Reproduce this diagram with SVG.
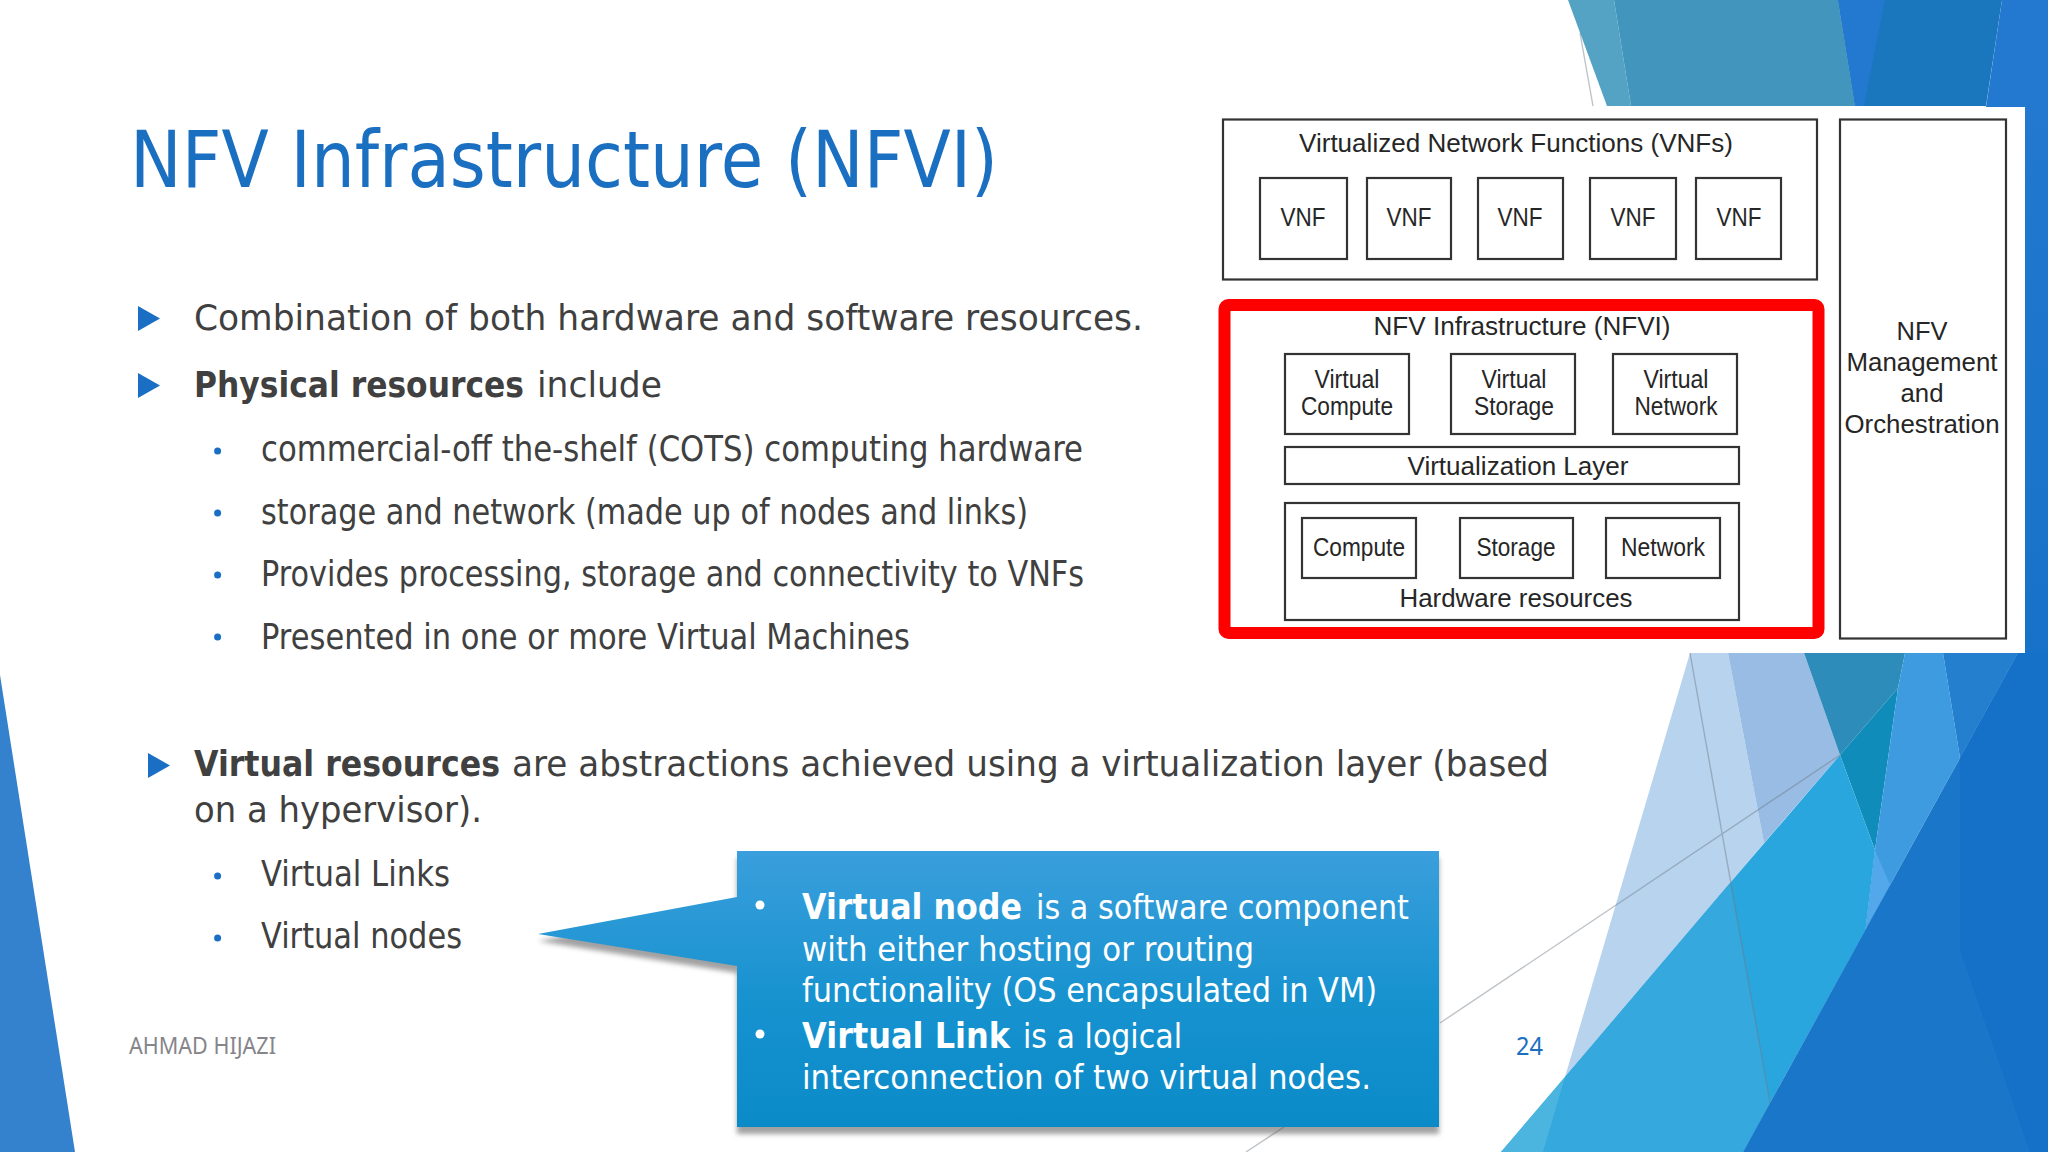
<svg xmlns="http://www.w3.org/2000/svg" width="2048" height="1152" viewBox="0 0 2048 1152">
<defs>
<linearGradient id="callout" x1="0" y1="0" x2="0" y2="1"><stop offset="0" stop-color="#3a9fdc"/><stop offset="0.55" stop-color="#1692cf"/><stop offset="1" stop-color="#0a8bc8"/></linearGradient>
<linearGradient id="strip" x1="0" y1="0" x2="0" y2="1"><stop offset="0" stop-color="#2279cf"/><stop offset="1" stop-color="#1672c8"/></linearGradient>
<filter id="soft" x="-5%" y="-5%" width="110%" height="115%"><feGaussianBlur stdDeviation="2.500"/></filter>
<path id="tri" d="M0 -12.5L22 0L0 12.5Z"/>
</defs>
<style>
.b{font-family:"DejaVu Sans","Noto Sans",sans-serif;font-size:36px;fill:#404040}
.bb{font-weight:700}
.c{font-family:"DejaVu Sans","Noto Sans",sans-serif;font-size:34px;fill:#fff}
.d{font-family:"Liberation Sans",Arial,sans-serif;font-size:26px;fill:#262626;text-anchor:middle}
.box{fill:#fff;stroke:#333;stroke-width:2.2}
.tri{fill:#1a6fc4}
.dot{fill:#1a6fc4}
.ln{fill:none;stroke:#6e7a88;stroke-opacity:.45;stroke-width:1.4}
</style>
<rect width="2048" height="1152" fill="#fff"/>
<g id="background">
<path d="M0 675L75 1152H0Z" fill="#3481cd"/>
<path d="M1568 0H1614L1631 106H1607Z" fill="#55a3c4"/>
<path d="M1614 0H1838L1855 106H1631Z" fill="#4296be"/>
<path d="M1838 0H2002L1986 106H1855Z" fill="#1a76bd"/>
<path d="M1838 0H1885L1864 106H1855Z" fill="#2279cf"/>
<path d="M2002 0H2048V107H1986Z" fill="#2279cf"/>
<rect x="2025" y="100" width="23" height="560" fill="url(#strip)"/>
<path d="M1690 653H1728L1764 843L1730 883L1565 1077Z" fill="#b8d3ee"/>
<path d="M1728 653H1804L1840 755L1764 843Z" fill="#98bce4"/>
<path d="M1804 653H1905L1898 688L1840 755Z" fill="#2e8cba"/>
<path d="M1840 755L1898 688L1875 850Z" fill="#0f8cba"/>
<path d="M1905 653H1943L1960 758L1890 885L1865.500 930L1875 850L1898 688Z" fill="#3f9be0"/>
<path d="M1943 653H2018L1960 758Z" fill="#2480cf"/>
<path d="M1875 850L1890 885L1865.500 930Z" fill="#52a8ea"/>
<path d="M1840 755L1875 850L1865.500 930L1743 1152H1501L1565 1077L1730 883Z" fill="#2aa6de"/>
<path d="M1730 883L1770 1103L1743 1152H1543L1565 1077Z" fill="#35a9dd"/>
<path d="M1501 1152L1565 1077L1543 1152Z" fill="#4bb5e0"/>
<path d="M2018 653H2048V1152H1743L1960 758Z" fill="#1976c9"/>
<path d="M1960 950L2030 1152H2048V653H2018L1960 758Z" fill="#1570c8"/>
<path class="ln" d="M1580 33L1593 106M1690 653L1770 1103M1840 755L1440 1023M1284 1127L1246 1152"/>
</g>
<g id="slide-title"><text x="130" y="187" textLength="868" lengthAdjust="spacingAndGlyphs" style="font-family:'DejaVu Sans','Noto Sans',sans-serif;font-size:78px;fill:#1a6fc0">NFV Infrastructure (NFVI)</text></g>
<g id="bullets">
<use href="#tri" class="tri" x="138" y="318.500"/>
<use href="#tri" class="tri" x="138" y="385.500"/>
<use href="#tri" class="tri" x="148" y="765.500"/>
<circle class="dot" cx="217.600" cy="451" r="3.500"/><circle class="dot" cx="217.600" cy="513" r="3.500"/><circle class="dot" cx="217.600" cy="575" r="3.500"/><circle class="dot" cx="217.600" cy="637" r="3.500"/><circle class="dot" cx="217.600" cy="876" r="3.500"/><circle class="dot" cx="217.600" cy="938" r="3.500"/>
<text class="b" x="194" y="330" textLength="949" lengthAdjust="spacingAndGlyphs">Combination of both hardware and software resources.</text>
<text class="b bb" x="194" y="397" textLength="330" lengthAdjust="spacingAndGlyphs">Physical resources</text>
<text class="b" x="537" y="397" textLength="125" lengthAdjust="spacingAndGlyphs">include</text>
<text class="b" x="261" y="461" textLength="822" lengthAdjust="spacingAndGlyphs">commercial-off the-shelf (COTS) computing hardware</text>
<text class="b" x="261" y="523.500" textLength="767" lengthAdjust="spacingAndGlyphs">storage and network (made up of nodes and links)</text>
<text class="b" x="261" y="586" textLength="823" lengthAdjust="spacingAndGlyphs">Provides processing, storage and connectivity to VNFs</text>
<text class="b" x="261" y="648.500" textLength="649" lengthAdjust="spacingAndGlyphs">Presented in one or more Virtual Machines</text>
<text class="b bb" x="194" y="776" textLength="306" lengthAdjust="spacingAndGlyphs">Virtual resources</text>
<text class="b" x="512" y="776" textLength="1037" lengthAdjust="spacingAndGlyphs">are abstractions achieved using a virtualization layer (based</text>
<text class="b" x="194" y="822" textLength="288" lengthAdjust="spacingAndGlyphs">on a hypervisor).</text>
<text class="b" x="261" y="886" textLength="189" lengthAdjust="spacingAndGlyphs">Virtual Links</text>
<text class="b" x="261" y="948" textLength="201" lengthAdjust="spacingAndGlyphs">Virtual nodes</text>
</g>
<g id="callout-node">
<path d="M737 851H1439V1127H737V966L538 934L737 897Z" transform="translate(0,7)" fill="#444" opacity=".5" filter="url(#soft)"/>
<path d="M737 851H1439V1127H737V966L538 934L737 897Z" fill="url(#callout)"/>
<circle cx="760" cy="905" r="4.500" fill="#fff"/><circle cx="760" cy="1034" r="4.500" fill="#fff"/>
<text class="c bb" x="802" y="919" textLength="220" lengthAdjust="spacingAndGlyphs" style="font-size:35px">Virtual node</text>
<text class="c" x="1036" y="919" textLength="373" lengthAdjust="spacingAndGlyphs">is a software component</text>
<text class="c" x="802" y="961" textLength="452" lengthAdjust="spacingAndGlyphs">with either hosting or routing</text>
<text class="c" x="802" y="1002" textLength="575" lengthAdjust="spacingAndGlyphs">functionality (OS encapsulated in VM)</text>
<text class="c bb" x="802" y="1048" textLength="208" lengthAdjust="spacingAndGlyphs" style="font-size:35px">Virtual Link</text>
<text class="c" x="1023" y="1048" textLength="159" lengthAdjust="spacingAndGlyphs">is a logical</text>
<text class="c" x="802" y="1089" textLength="569" lengthAdjust="spacingAndGlyphs">interconnection of two virtual nodes.</text>
</g>
<g id="footer">
<text x="129" y="1054" textLength="147" lengthAdjust="spacingAndGlyphs" style="font-family:'Noto Sans',sans-serif;font-size:24px;fill:#85858a">AHMAD HIJAZI</text>
<text x="1516" y="1055" textLength="27" lengthAdjust="spacingAndGlyphs" style="font-family:'Noto Sans',sans-serif;font-size:25px;fill:#1a6fc0">24</text>
</g>
<g id="diagram-panel"><path d="M1210 107H2025V653H1210Z" fill="#fff"/></g>
<g id="vnfs"><rect class="box" x="1223" y="119.500" width="594" height="160"/><text class="d" x="1516" y="152" textLength="434" lengthAdjust="spacingAndGlyphs">Virtualized Network Functions (VNFs)</text></g>
<g id="vnf-1"><rect class="box" x="1260" y="178" width="87" height="81"/><text class="d" x="1303" y="226" textLength="45" lengthAdjust="spacingAndGlyphs">VNF</text></g>
<g id="vnf-2"><rect class="box" x="1367" y="178" width="84" height="81"/><text class="d" x="1409" y="226" textLength="45" lengthAdjust="spacingAndGlyphs">VNF</text></g>
<g id="vnf-3"><rect class="box" x="1478" y="178" width="85" height="81"/><text class="d" x="1520" y="226" textLength="45" lengthAdjust="spacingAndGlyphs">VNF</text></g>
<g id="vnf-4"><rect class="box" x="1590" y="178" width="86" height="81"/><text class="d" x="1633" y="226" textLength="45" lengthAdjust="spacingAndGlyphs">VNF</text></g>
<g id="vnf-5"><rect class="box" x="1696" y="178" width="85" height="81"/><text class="d" x="1739" y="226" textLength="45" lengthAdjust="spacingAndGlyphs">VNF</text></g>
<g id="nfvi"><rect x="1224.500" y="305" width="594" height="328" rx="4" fill="#fff" stroke="#ff0000" stroke-width="12"/><text class="d" x="1522" y="335" textLength="297" lengthAdjust="spacingAndGlyphs">NFV Infrastructure (NFVI)</text></g>
<g id="virtual-compute"><rect class="box" x="1285" y="354" width="124" height="80"/><text class="d" x="1347" y="388" textLength="65" lengthAdjust="spacingAndGlyphs">Virtual</text><text class="d" x="1347" y="415" textLength="92" lengthAdjust="spacingAndGlyphs">Compute</text></g>
<g id="virtual-storage"><rect class="box" x="1451" y="354" width="124" height="80"/><text class="d" x="1514" y="388" textLength="65" lengthAdjust="spacingAndGlyphs">Virtual</text><text class="d" x="1514" y="415" textLength="80" lengthAdjust="spacingAndGlyphs">Storage</text></g>
<g id="virtual-network"><rect class="box" x="1613" y="354" width="124" height="80"/><text class="d" x="1676" y="388" textLength="65" lengthAdjust="spacingAndGlyphs">Virtual</text><text class="d" x="1676" y="415" textLength="83" lengthAdjust="spacingAndGlyphs">Network</text></g>
<g id="virtualization-layer"><rect class="box" x="1285" y="447" width="454" height="37"/><text class="d" x="1518" y="475" textLength="221" lengthAdjust="spacingAndGlyphs">Virtualization Layer</text></g>
<g id="hardware-resources"><rect class="box" x="1285" y="503" width="454" height="117"/><text class="d" x="1516" y="607" textLength="233" lengthAdjust="spacingAndGlyphs">Hardware resources</text></g>
<g id="compute"><rect class="box" x="1302" y="518" width="114" height="60"/><text class="d" x="1359" y="556" textLength="92" lengthAdjust="spacingAndGlyphs">Compute</text></g>
<g id="storage"><rect class="box" x="1460" y="518" width="113" height="60"/><text class="d" x="1516" y="556" textLength="79" lengthAdjust="spacingAndGlyphs">Storage</text></g>
<g id="network"><rect class="box" x="1606" y="518" width="114" height="60"/><text class="d" x="1663" y="556" textLength="84" lengthAdjust="spacingAndGlyphs">Network</text></g>
<g id="nfv-mano"><rect class="box" x="1840" y="119.500" width="166" height="519"/><text class="d" x="1922" y="340" textLength="51" lengthAdjust="spacingAndGlyphs">NFV</text><text class="d" x="1922" y="371" textLength="151" lengthAdjust="spacingAndGlyphs">Management</text><text class="d" x="1922" y="402" textLength="43" lengthAdjust="spacingAndGlyphs">and</text><text class="d" x="1922" y="433" textLength="155" lengthAdjust="spacingAndGlyphs">Orchestration</text></g>
<g id="connectors"></g>
</svg>
